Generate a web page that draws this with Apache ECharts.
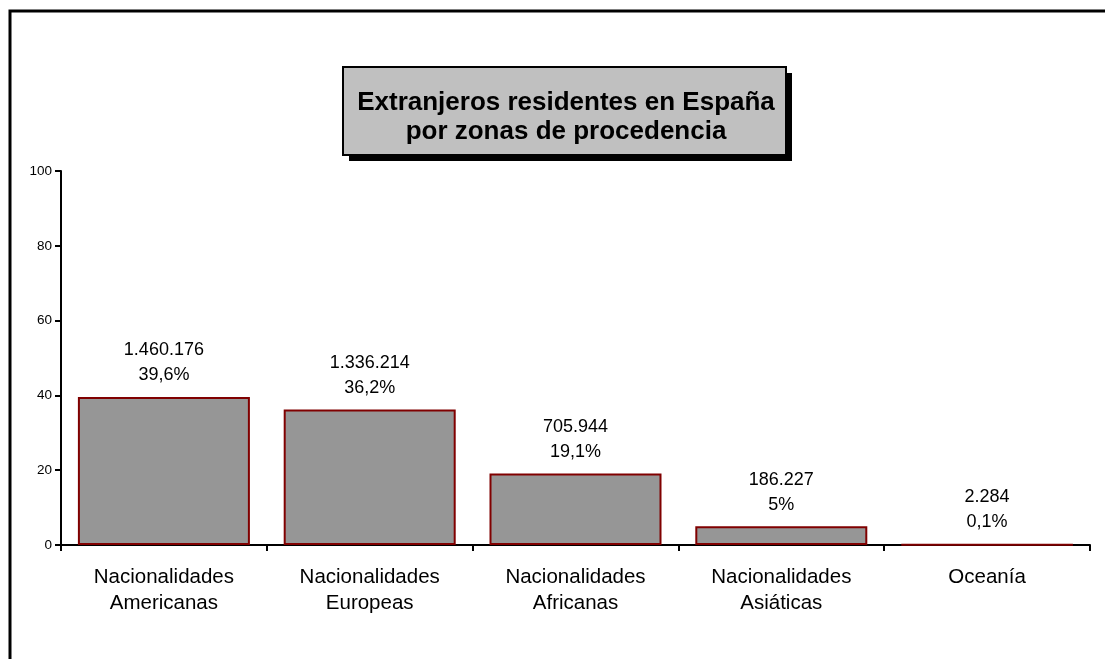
<!DOCTYPE html>
<html>
<head>
<meta charset="utf-8">
<script src="https://cdn.jsdelivr.net/npm/echarts@6/dist/echarts.min.js"></script>
<style>
  html, body { margin: 0; padding: 0; background: #fff; }
  #main { width: 1105px; height: 659px; }
</style>
</head>
<body>
<div id="main"></div>
<script>
// datos del gráfico
const categorias = ['Nacionalidades\nAmericanas', 'Nacionalidades\nEuropeas', 'Nacionalidades\nAfricanas', 'Nacionalidades\nAsiáticas', 'Oceanía'];
const porcentajes = [39.6, 36.2, 19.1, 5, 0.1];
const residentes = ['1.460.176', '1.336.214', '705.944', '186.227', '2.284'];
const etiquetasPct = ['39,6%', '36,2%', '19,1%', '5%', '0,1%'];
const tituloLineas = ['Extranjeros residentes en España', 'por zonas de procedencia'];

const chart = echarts.init(document.getElementById('main'), null, { renderer: 'canvas' });

const option = {
  backgroundColor: '#fff',
  animation: false,
  textStyle: { fontFamily: 'Liberation Sans, Arial, sans-serif' },
  grid: { left: 61, top: 171, right: 15, bottom: 114, containLabel: false },
  graphic: [
    {
      type: 'rect', z: 0,
      shape: { x: 10, y: 11, width: 1300, height: 900 },
      style: { fill: 'none', stroke: '#000', lineWidth: 3 }
    },
    {
      // sombra del título
      type: 'rect', z: 10,
      shape: { x: 349, y: 73, width: 443, height: 88 },
      style: { fill: '#000' }
    },
    {
      type: 'rect', z: 11,
      shape: { x: 343, y: 67, width: 443, height: 88 },
      style: { fill: '#c0c0c0', stroke: '#000', lineWidth: 2 }
    },
    {
      type: 'text', z: 12,
      x: 566, y: 117,
      style: {
        text: tituloLineas.join('\n'),
        font: 'bold 26px "Liberation Sans", Arial, sans-serif',
        fill: '#000',
        align: 'center',
        verticalAlign: 'middle',
        lineHeight: 29
      }
    }
  ],
  xAxis: {
    type: 'category',
    data: categorias,
    axisLine: { lineStyle: { color: '#000', width: 2 } },
    axisTick: { show: true, length: 6, lineStyle: { color: '#000', width: 2 } },
    axisLabel: {
      color: '#000',
      fontSize: 20.5,
      lineHeight: 26,
      margin: 19,
      interval: 0
    }
  },
  yAxis: {
    type: 'value',
    min: 0,
    max: 100,
    interval: 20,
    splitLine: { show: false },
    axisLine: { show: true, lineStyle: { color: '#000', width: 2 } },
    axisTick: { show: true, length: 6, lineStyle: { color: '#000', width: 2 } },
    axisLabel: { color: '#000', fontSize: 13.5, margin: 9 }
  },
  series: [{
    type: 'bar',
    data: porcentajes,
    barWidth: 172,
    itemStyle: { color: '#969696', borderColor: '#800000', borderWidth: 2 },
    label: {
      show: true,
      position: 'top',
      distance: 9,
      color: '#000',
      fontSize: 18,
      lineHeight: 25,
      formatter: (p) => residentes[p.dataIndex] + '\n' + etiquetasPct[p.dataIndex]
    }
  }]
};

chart.setOption(option);
</script>
</body>
</html>
